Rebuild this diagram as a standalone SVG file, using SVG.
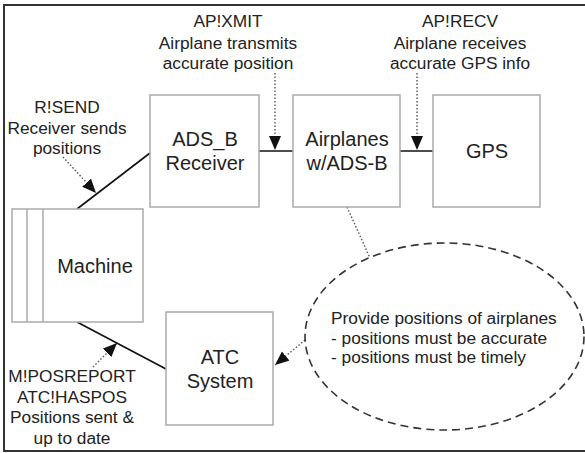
<svg xmlns="http://www.w3.org/2000/svg" width="585" height="453" viewBox="0 0 585 453">
<defs>
<marker id="arr" markerWidth="15" markerHeight="13" refX="14" refY="6" orient="auto" markerUnits="userSpaceOnUse">
<path d="M0,0 L14,6 L0,12 z" fill="#111"/>
</marker>
<style>
.box{fill:#fff;stroke:#aaa;stroke-width:1.5}
.t{font-family:"Liberation Sans",Arial,sans-serif;fill:#222;text-anchor:middle}
.big{font-size:20px}
.lab{font-size:17.3px}
.line{stroke:#111;stroke-width:1.6;fill:none}
.dot{stroke:#555;stroke-width:1.4;stroke-dasharray:1.5 2;fill:none}
</style>
</defs>
<rect x="4" y="5" width="620" height="446" fill="#fff" stroke="#333" stroke-width="2"/>

<g id="connectors">
<line class="line" x1="259" y1="151" x2="293" y2="151"/>
<line class="line" x1="400" y1="151" x2="433" y2="151"/>
<line class="line" x1="77" y1="209" x2="150" y2="153"/>
<line class="line" x1="77" y1="322" x2="166" y2="369"/>
<line class="dot" x1="275" y1="73" x2="275" y2="150" marker-end="url(#arr)"/>
<line class="dot" x1="417" y1="73" x2="417" y2="150" marker-end="url(#arr)"/>
<line class="dot" x1="63" y1="157" x2="96" y2="193" marker-end="url(#arr)"/>
<line class="dot" x1="93" y1="367" x2="117" y2="343" marker-end="url(#arr)"/>
<line class="dot" x1="305" y1="340" x2="275" y2="365" marker-end="url(#arr)"/>
<line class="dot" x1="347" y1="207" x2="370" y2="258"/>
</g>

<g id="adsb">
<rect class="box" x="150" y="95" width="109" height="112"/>
<text class="t big" x="205" y="146">ADS_B</text>
<text class="t big" x="205" y="170">Receiver</text>
</g>
<g id="airplanes">
<rect class="box" x="293" y="95" width="107" height="112"/>
<text class="t big" x="347" y="146">Airplanes</text>
<text class="t big" x="347" y="170">w/ADS-B</text>
</g>
<g id="gps">
<rect class="box" x="433" y="95" width="107" height="112"/>
<text class="t big" x="487" y="158">GPS</text>
</g>
<g id="machine">
<rect class="box" x="12" y="209" width="131" height="113"/>
<line x1="27" y1="209" x2="27" y2="322" stroke="#aaa" stroke-width="1.5"/>
<line x1="43" y1="209" x2="43" y2="322" stroke="#aaa" stroke-width="1.5"/>
<text class="t big" x="95" y="273">Machine</text>
</g>
<g id="atc">
<rect class="box" x="166" y="312" width="107" height="113"/>
<text class="t big" x="220" y="364">ATC</text>
<text class="t big" x="220" y="388">System</text>
</g>
<g id="requirement">
<ellipse cx="444.5" cy="336.5" rx="139.5" ry="93.5" fill="none" stroke="#333" stroke-width="1.6" stroke-dasharray="8 5"/>
<text class="t lab" x="331" y="324" style="text-anchor:start">Provide positions of airplanes</text>
<text class="t lab" x="331" y="344" style="text-anchor:start">- positions must be accurate</text>
<text class="t lab" x="331" y="363" style="text-anchor:start">- positions must be timely</text>
</g>
<g id="label-xmit">
<text class="t lab" x="228" y="27">AP!XMIT</text>
<text class="t lab" x="228" y="49">Airplane transmits</text>
<text class="t lab" x="228" y="69">accurate position</text>
</g>
<g id="label-recv">
<text class="t lab" x="460" y="27">AP!RECV</text>
<text class="t lab" x="460" y="49">Airplane receives</text>
<text class="t lab" x="460" y="69">accurate GPS info</text>
</g>
<g id="label-send">
<text class="t lab" x="67" y="113">R!SEND</text>
<text class="t lab" x="67" y="134">Receiver sends</text>
<text class="t lab" x="67" y="154">positions</text>
</g>
<g id="label-posreport">
<text class="t lab" x="72" y="382">M!POSREPORT</text>
<text class="t lab" x="72" y="403">ATC!HASPOS</text>
<text class="t lab" x="72" y="423">Positions sent &amp;</text>
<text class="t lab" x="72" y="444">up to date</text>
</g>
</svg>
